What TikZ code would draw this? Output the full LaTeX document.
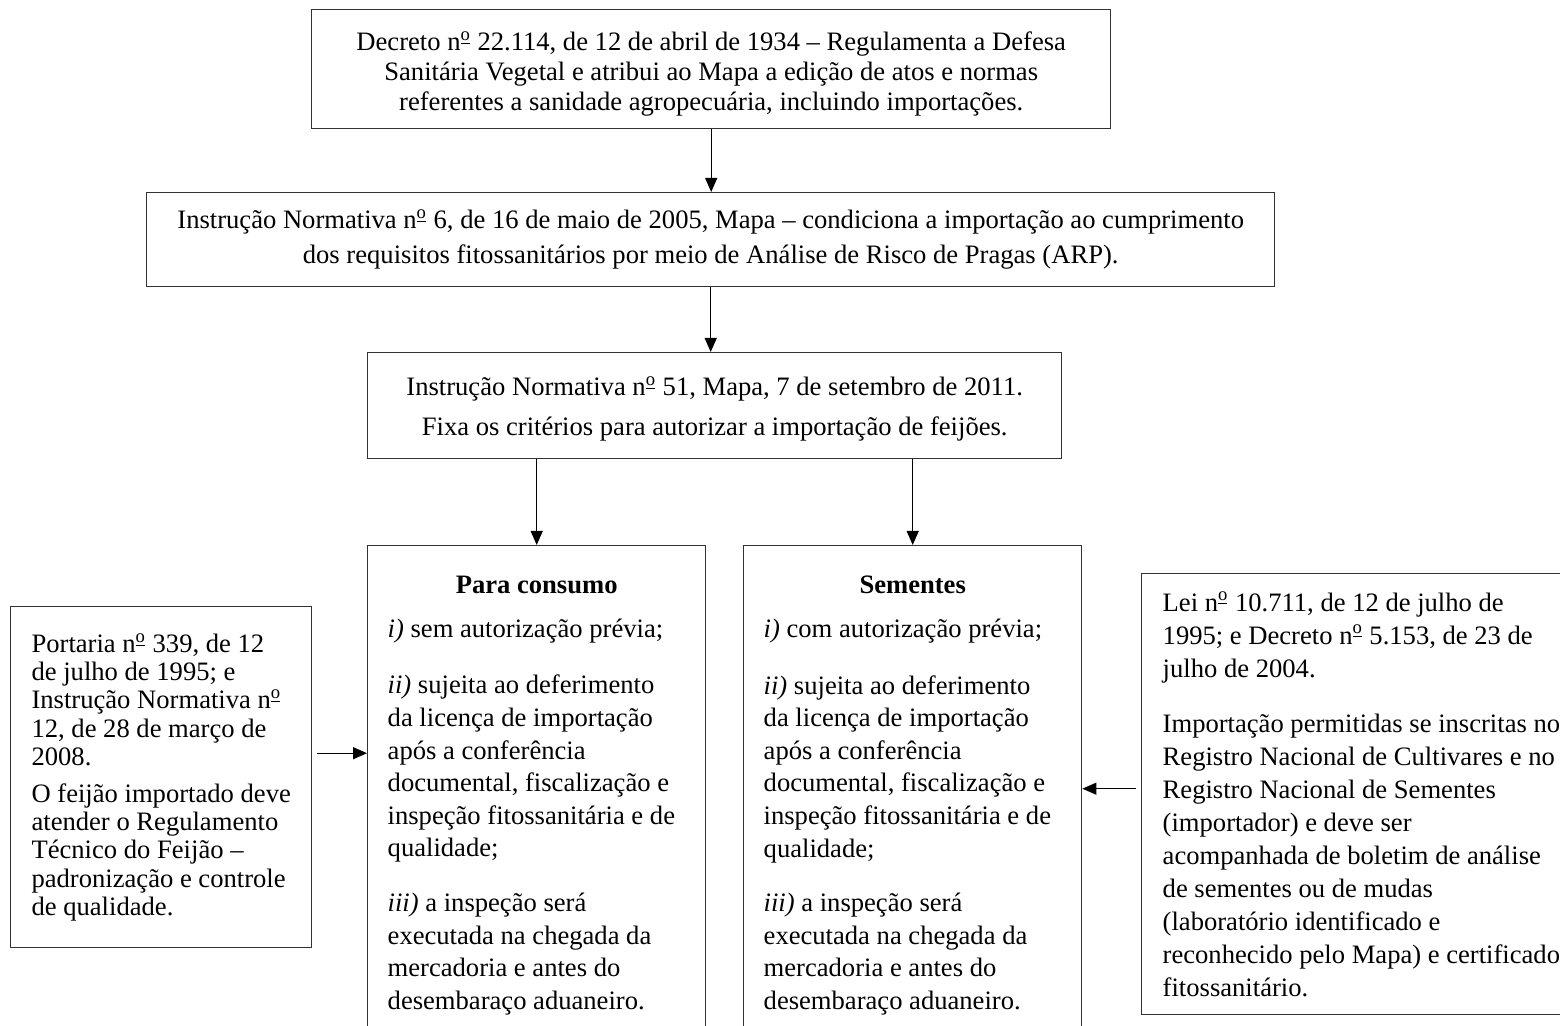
\documentclass[tikz,border=0pt]{standalone}
\usepackage{fontspec}
\setmainfont{Liberation Serif}
\usetikzlibrary{arrows.meta,positioning}
\newcommand{\nro}{n\textsuperscript{\underline{o}}}
\newcommand{\tightfont}{\fontsize{13.3}{14.1}\selectfont\lineskiplimit=-10pt\relax}

\begin{document}
\begin{tikzpicture}[x=0.5pt, y=-0.5pt, box/.style={draw=black!80, line width=0.7pt, anchor=north west, inner sep=0pt, align=center, font=\fontsize{13.3}{15}\selectfont}, lbox/.style={box, align=left, inner xsep=10pt, font=\tightfont}, mbox/.style={box, align=flush left, inner xsep=10pt, text width=149pt, minimum height=250pt, font=\fontsize{13.3}{16.3}\selectfont}, arr/.style={-{Triangle[length=7pt,width=6pt]}, line width=0.6pt}]
\useasboundingbox (0,0) rectangle (1560,1026);
\node[box, minimum width=399.5pt, minimum height=59.5pt] (dec) at (311,9) {\rule{0pt}{14.5pt}Decreto \nro{} 22.114, de 12 de abril de 1934 – Regulamenta a Defesa\\Sanitária Vegetal e atribui ao Mapa a edição de atos e normas\\referentes a sanidade agropecuária, incluindo importações.};
\node[box, minimum width=564pt, minimum height=47pt, font=\fontsize{13.3}{17.5}\selectfont] (in6) at (146,192) {Instrução Normativa \nro{} 6, de 16 de maio de 2005, Mapa – condiciona a importação ao cumprimento\\dos requisitos fitossanitários por meio de Análise de Risco de Pragas (ARP).};
\node[box, minimum width=347pt, minimum height=53pt, font=\fontsize{13.3}{20}\selectfont] (in51) at (367,352) {\rule{0pt}{13pt}Instrução Normativa \nro{} 51, Mapa, 7 de setembro de 2011.\\Fixa os critérios para autorizar a importação de feijões.};
\node[mbox] (cons) at (367,545) {\makebox[\linewidth]{\textbf{Para consumo}}\\[5.5pt]\textit{i)} sem autorização prévia;\\[12pt]\textit{ii)} sujeita ao deferimento\\da licença de importação\\após a conferência\\documental, fiscalização e\\inspeção fitossanitária e de\\qualidade;\\[11pt]\textit{iii)} a inspeção será\\executada na chegada da\\mercadoria e antes do\\desembaraço aduaneiro.};
\node[mbox] (sem) at (743,545) {\makebox[\linewidth]{\textbf{Sementes}}\\[5.5pt]\textit{i)} com autorização prévia;\\[12pt]\textit{ii)} sujeita ao deferimento\\da licença de importação\\após a conferência\\documental, fiscalização e\\inspeção fitossanitária e de\\qualidade;\\[11pt]\textit{iii)} a inspeção será\\executada na chegada da\\mercadoria e antes do\\desembaraço aduaneiro.};
\node[lbox, minimum width=150.5pt, minimum height=170.5pt] (port) at (10,606) {Portaria \nro{} 339, de 12\\de julho de 1995; e\\Instrução Normativa \nro\\12, de 28 de março de\\2008.\\[4.5pt]O feijão importado deve\\atender o Regulamento\\Técnico do Feijão –\\padronização e controle\\de qualidade.};
\node[lbox, inner xsep=10.5pt, minimum height=220.5pt, font=\fontsize{13.3}{16.5}\selectfont] (lei) at (1141,573) {Lei \nro{} 10.711, de 12 de julho de\\1995; e Decreto \nro{} 5.153, de 23 de\\julho de 2004.\\[11pt]Importação permitidas se inscritas no\\Registro Nacional de Cultivares e no\\Registro Nacional de Sementes\\(importador) e deve ser\\acompanhada de boletim de análise\\de sementes ou de mudas\\(laboratório identificado e\\reconhecido pelo Mapa) e certificado\\fitossanitário.};
\draw[arr] (dec.south) -- (dec.south |- in6.north); \draw[arr] (in6.south) -- (in6.south |- in51.north); \draw[arr] (in51.south -| cons.north) -- (cons.north); \draw[arr] (in51.south -| sem.north) -- (sem.north);
\draw[arr, shorten <=2.5pt] ([yshift=12pt]port.east) -- ([yshift=12pt]port.east -| cons.west); \draw[arr, shorten <=2.5pt] ([yshift=2.75pt]lei.west) -- ([yshift=2.75pt]lei.west -| sem.east);
\end{tikzpicture}
\end{document}
